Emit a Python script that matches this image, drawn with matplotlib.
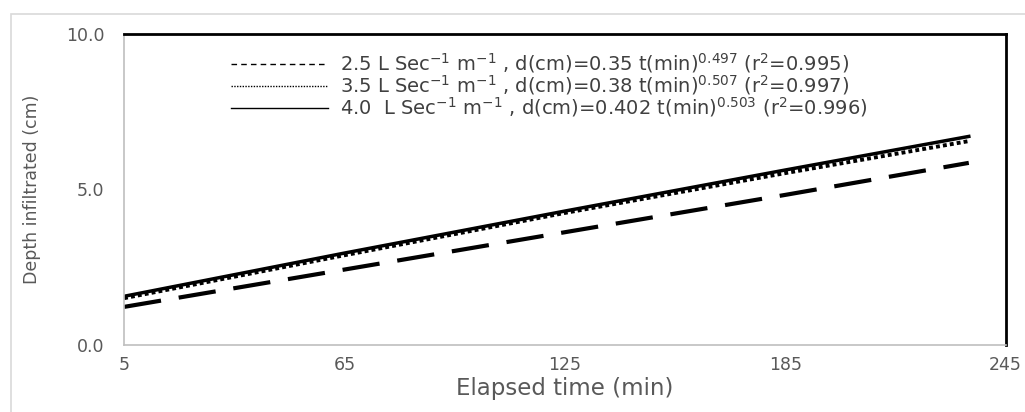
import matplotlib
matplotlib.use('Agg')
import matplotlib.pyplot as plt
from matplotlib.lines import Line2D
from matplotlib.patches import Rectangle

# values
time_min = [5, 65, 125, 185, 235]
depth_25 = [1.22, 2.42, 3.62, 4.82, 5.85]
depth_35 = [1.50, 2.88, 4.24, 5.52, 6.55]
depth_40 = [1.56, 2.95, 4.30, 5.62, 6.70]

labels = [
    r'2.5 L Sec$^{-1}$ m$^{-1}$ , d(cm)=0.35 t(min)$^{0.497}$ (r$^{2}$=0.995)',
    r'3.5 L Sec$^{-1}$ m$^{-1}$ , d(cm)=0.38 t(min)$^{0.507}$ (r$^{2}$=0.997)',
    r'4.0  L Sec$^{-1}$ m$^{-1}$ , d(cm)=0.402 t(min)$^{0.503}$ (r$^{2}$=0.996)',
]
x_ticks = [5, 65, 125, 185, 245]
y_ticks = [0.0, 5.0, 10.0]

plt.rcParams['font.family'] = ['DejaVu Sans']
plt.rcParams['mathtext.default'] = 'regular'
plt.rcParams['axes.unicode_minus'] = False

fig = plt.figure(figsize=(10.25, 4.12), dpi=100)
ax = fig.add_axes([0.121, 0.163, 0.860, 0.755])

# outer chart border
fig.patches.append(Rectangle((11 / 1025, -0.1), 1.2, (412 - 14) / 412 + 0.1,
                             transform=fig.transFigure, fill=False,
                             edgecolor='#d9d9d9', linewidth=1.2))

ax.plot(time_min, depth_25, color='black', linewidth=3, linestyle=(0, (9, 4.3)))
ax.plot(time_min, depth_35, color='black', linewidth=2.8, linestyle=(0, (1, 0.8)))
ax.plot(time_min, depth_40, color='black', linewidth=2.5, linestyle='-')

ax.set_xlim(5, 245)
ax.set_ylim(0, 10)
ax.set_xticks(x_ticks)
ax.set_yticks(y_ticks)
ax.set_yticklabels(['%.1f' % v for v in y_ticks])
ax.tick_params(length=0, labelsize=12.5, labelcolor='#595959')
ax.tick_params(axis='x', pad=8)
ax.tick_params(axis='y', pad=14)

for side in ['left', 'bottom']:
    ax.spines[side].set_color('#bfbfbf')
    ax.spines[side].set_linewidth(1.2)
for side in ['top', 'right']:
    ax.spines[side].set_color('black')
    ax.spines[side].set_linewidth(2)

ax.set_xlabel('Elapsed time (min)', fontsize=16.5, color='#595959', labelpad=2)
ax.set_ylabel('Depth infiltrated (cm)', fontsize=12.5, color='#595959', labelpad=18)

handles = [
    Line2D([], [], color='black', linewidth=1, linestyle=(0, (4, 3))),
    Line2D([], [], color='black', linewidth=1, linestyle=(0, (1, 1))),
    Line2D([], [], color='black', linewidth=1, linestyle='-'),
]
ax.legend(handles, labels, loc='upper center', bbox_to_anchor=(0.482, 1.0),
          frameon=False, fontsize=14, handlelength=5.0, handletextpad=0.6,
          labelspacing=-0.1, labelcolor='#404040')

plt.savefig('out.png', dpi=100)
